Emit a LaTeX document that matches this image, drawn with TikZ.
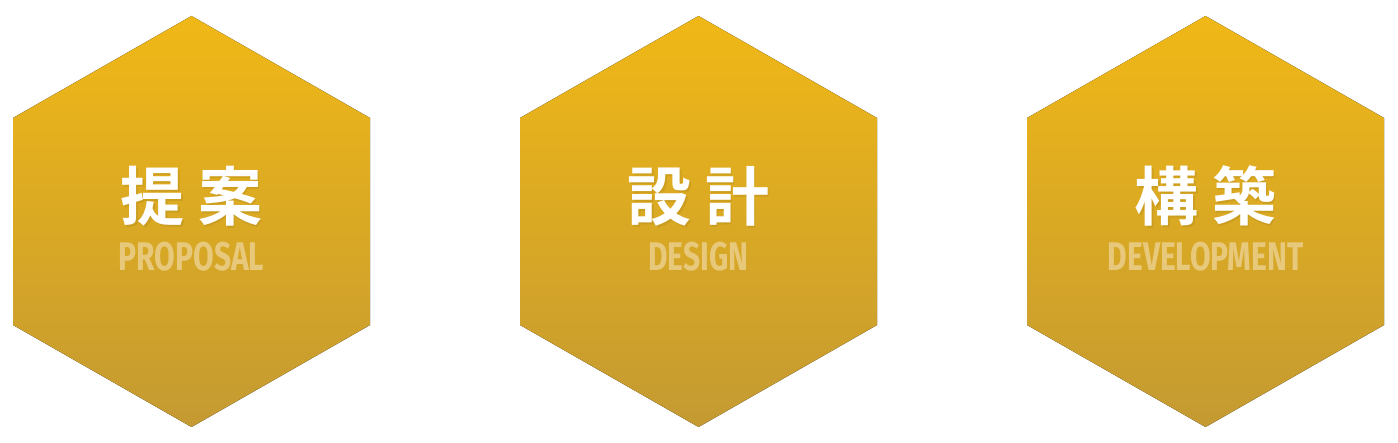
\documentclass[tikz,border=0pt]{standalone}
\usepackage{fontspec}
\newfontfamily\cjk{Noto Sans CJK JP}[BoldFont={* Bold}]
\newfontfamily\enfont{Fira Sans}
\definecolor{hextop}{HTML}{F0B816}
\definecolor{hexbot}{HTML}{C49A32}
\definecolor{subtxt}{HTML}{E8C97C}
\tikzset{
  hexfill/.style={top color=hextop, bottom color=hexbot, draw=none},
  kanji/.style={text=white, font=\cjk\bfseries\fontsize{64}{64}\selectfont, inner sep=0pt, anchor=center},
  kshadow/.style={text=black, opacity=0.07, font=\cjk\bfseries\fontsize{64}{64}\selectfont, inner sep=0pt, anchor=center},
  subl/.style={text=subtxt, font=\enfont\bfseries\fontsize{40}{40}\selectfont, inner sep=0pt, anchor=base},
}
\newcommand{\hexat}[2]{%
  \fill[hexfill] (#1,16) -- (#1+178.5,118) -- (#1+178.5,325) -- (#1,427) -- (#1-178.5,325) -- (#1-178.5,118) -- cycle;
}
\begin{document}
\begin{tikzpicture}[x=1pt,y=-1pt]
\useasboundingbox (0,0) rectangle (1398,443);
\hexat{191.5}{a}
\hexat{698.5}{b}
\hexat{1205.5}{c}
\node[kshadow] (s1) at (193,198) {提\hspace{14pt}案};
\node[kanji] (k1) at (191.5,196) {提\hspace{14pt}案};
\node[subl] (e1) at (191.5,271) {\scalebox{0.75}[1]{PROPOSAL}};
\node[kshadow] (s2) at (700,198) {設\hspace{14pt}計};
\node[kanji] (k2) at (698.5,196) {設\hspace{14pt}計};
\node[subl] (e2) at (698.5,271) {\scalebox{0.75}[1]{DESIGN}};
\node[kshadow] (s3) at (1207,198) {構\hspace{14pt}築};
\node[kanji] (k3) at (1205.5,196) {構\hspace{14pt}築};
\node[subl] (e3) at (1205.5,271) {\scalebox{0.75}[1]{DEVELOPMENT}};
\end{tikzpicture}
\end{document}
